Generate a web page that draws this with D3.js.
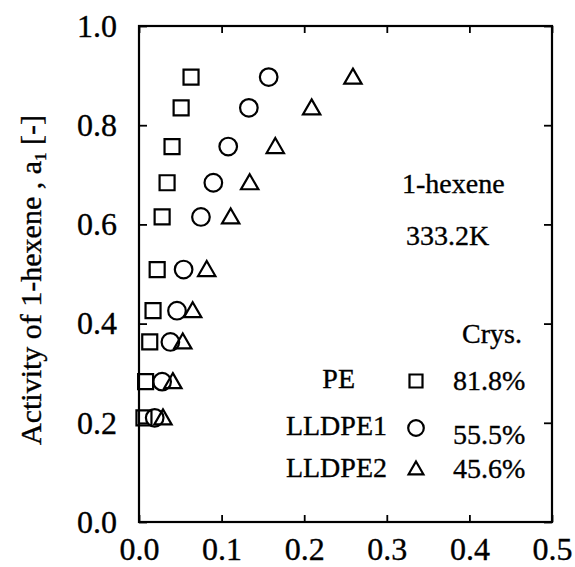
<!DOCTYPE html>
<html>
<head>
<meta charset="utf-8">
<script src="https://cdn.jsdelivr.net/npm/d3@7"></script>
<style>
  html, body { margin: 0; padding: 0; background: #fff; }
  svg { display: block; }
  text { font-family: "Liberation Serif", "Times New Roman", serif; fill: #000; stroke: #000; stroke-width: 0.35px; }
</style>
</head>
<body>
<svg id="chart" width="575" height="567"></svg>
<script>
// Activity of 1-hexene (shared by all three polymers)
const activity = [0.897, 0.835, 0.757, 0.684, 0.615, 0.509, 0.426, 0.363, 0.283, 0.210];
// Sorbed amount (x) for each polymer
const pe     = [0.063, 0.051, 0.040, 0.034, 0.028, 0.022, 0.017, 0.013, 0.008, 0.006];
const lldpe1 = [0.157, 0.133, 0.108, 0.090, 0.075, 0.054, 0.046, 0.038, 0.028, 0.019];
const lldpe2 = [0.259, 0.209, 0.165, 0.134, 0.111, 0.082, 0.065, 0.053, 0.041, 0.029];

const seriesNames = ["PE", "LLDPE1", "LLDPE2"];
const crystallinity = ["81.8%", "55.5%", "45.6%"];
const xTicks = [0.0, 0.1, 0.2, 0.3, 0.4, 0.5];
const yTicks = [0.0, 0.2, 0.4, 0.6, 0.8, 1.0];

const svg = d3.select("#chart");
const plotL = 139, plotR = 552, plotT = 26, plotB = 522;

const x = d3.scaleLinear().domain([0, 0.5]).range([plotL, plotR]);
const y = d3.scaleLinear().domain([0, 1.0]).range([plotB, plotT]);

// Axes: inward ticks on all four sides
const fmt = d3.format(".1f");
const axisStyle = g => {
  g.select(".domain").remove();
  g.selectAll(".tick line").attr("stroke", "#000").attr("stroke-width", 1.8);
  g.selectAll(".tick text").attr("font-size", 32);
};

svg.append("g").attr("transform", `translate(0,${plotB})`)
  .call(d3.axisBottom(x).tickValues(xTicks).tickFormat(fmt).tickSizeInner(-7).tickSizeOuter(0).tickPadding(15))
  .call(axisStyle);
svg.append("g").attr("transform", `translate(${plotL},0)`)
  .call(d3.axisLeft(y).tickValues(yTicks).tickFormat(fmt).tickSizeInner(-8).tickSizeOuter(0).tickPadding(22))
  .call(axisStyle);
svg.append("g").attr("transform", `translate(0,${plotT})`)
  .call(d3.axisTop(x).tickValues(xTicks).tickFormat("").tickSizeInner(-7).tickSizeOuter(0))
  .call(axisStyle);
svg.append("g").attr("transform", `translate(${plotR},0)`)
  .call(d3.axisRight(y).tickValues(yTicks).tickFormat("").tickSizeInner(-8).tickSizeOuter(0))
  .call(axisStyle);

// Plot frame
svg.append("rect")
  .attr("x", plotL).attr("y", plotT)
  .attr("width", plotR - plotL).attr("height", plotB - plotT)
  .attr("fill", "none").attr("stroke", "#000").attr("stroke-width", 2.2);

// Marker shapes
const shapes = [
  d3.symbol().type(d3.symbolSquare).size(15 * 15),
  d3.symbol().type(d3.symbolCircle).size(Math.PI * 8.8 * 8.8),
  d3.symbol().type(d3.symbolTriangle).size(130)
];
const legendShapes = [
  d3.symbol().type(d3.symbolSquare).size(13 * 13),
  d3.symbol().type(d3.symbolCircle).size(Math.PI * 7.8 * 7.8),
  d3.symbol().type(d3.symbolTriangle).size(95)
];

const series = [pe, lldpe1, lldpe2];
series.forEach((xs, si) => {
  svg.append("g").selectAll("path")
    .data(xs.map((v, i) => [v, activity[i]]))
    .join("path")
    .attr("d", shapes[si])
    .attr("transform", d => `translate(${x(d[0])},${y(d[1]) + (si === 2 ? 1.5 : 0)})`)
    .attr("fill", "none")
    .attr("stroke", "#000")
    .attr("stroke-width", 2.2);
});

// Y-axis title
const yTitle = svg.append("text")
  .attr("transform", `translate(41,${(plotT + plotB) / 2 + 6}) rotate(-90)`)
  .attr("text-anchor", "middle")
  .attr("font-size", 30);
yTitle.append("tspan").text("Activity of 1-hexene , a");
yTitle.append("tspan").attr("font-size", 17).attr("dy", 5).text("1");
yTitle.append("tspan").attr("dy", -5).text(" [-]");

// Annotations
svg.append("text").attr("x", 402).attr("y", 193).attr("font-size", 28).text("1-hexene");
svg.append("text").attr("x", 406).attr("y", 245).attr("font-size", 28).text("333.2K");
svg.append("text").attr("x", 462).attr("y", 343).attr("font-size", 28).text("Crys.");

// Legend
const legY = [388, 435, 477];
const symY = [381, 428, 470];
const pctY = [390, 444, 478];
seriesNames.forEach((name, i) => {
  svg.append("text").attr("x", i === 0 ? 355 : 387).attr("y", legY[i])
    .attr("text-anchor", "end").attr("font-size", 28).text(name);
  svg.append("path").attr("d", legendShapes[i])
    .attr("transform", `translate(416,${symY[i]})`)
    .attr("fill", "none").attr("stroke", "#000").attr("stroke-width", 2.2);
  svg.append("text").attr("x", 453).attr("y", pctY[i])
    .attr("font-size", 28).text(crystallinity[i]);
});
</script>
</body>
</html>
